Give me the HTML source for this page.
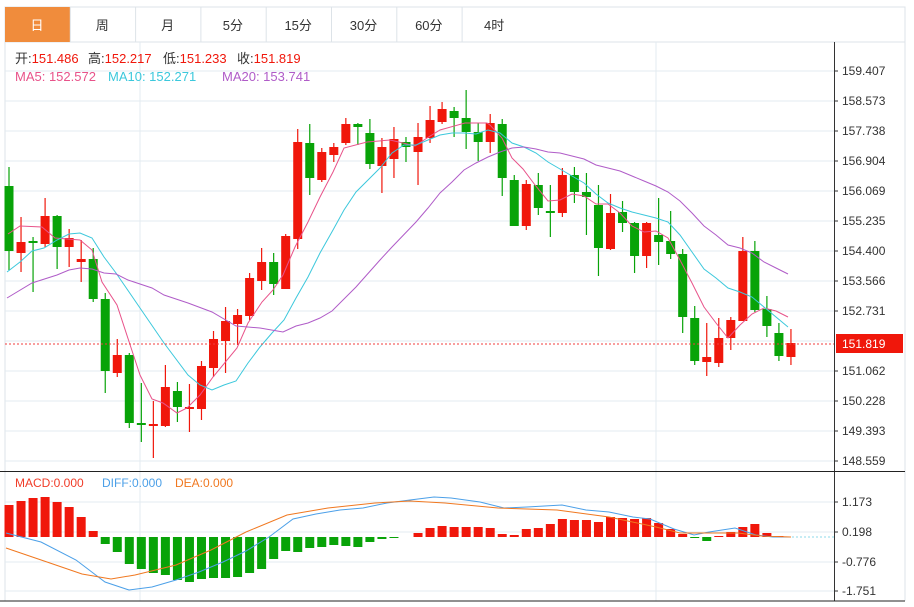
<!DOCTYPE html>
<html><head><meta charset="utf-8"><style>
body{margin:0;background:#fff;width:914px;height:602px;overflow:hidden;font-family:"Liberation Sans","Noto Sans CJK SC",sans-serif}
</style></head><body>
<svg id="s" width="914" height="602" xmlns="http://www.w3.org/2000/svg" font-family="Liberation Sans, Noto Sans CJK SC, sans-serif"></svg>
<script>
const s=document.getElementById('s');let h='';
const R='#f0170b',G='#08a308';
h+='<rect x="5" y="7" width="900" height="35" fill="#fff" stroke="#dde3e8"/>';
h+='<rect x="5" y="7" width="65" height="35" fill="#f08c3c"/>';
const tabs=['日','周','月','5分','15分','30分','60分','4时'];
tabs.forEach((t,i)=>{const x=5+i*65.3;if(i>0)h+=`<line x1="${x}" y1="7" x2="${x}" y2="42" stroke="#dde3e8"/>`;
h+=`<text x="${x+32}" y="30" font-size="13" text-anchor="middle" fill="${i?'#333':'#fff'}">${t}</text>`;});
h+='<line x1="5" y1="42" x2="5" y2="601" stroke="#dde3e8"/><line x1="905" y1="42" x2="905" y2="601" stroke="#dde3e8"/>';
const ticks=['159.407','158.573','157.738','156.904','156.069','155.235','154.400','153.566','152.731','151.062','150.228','149.393','148.559'];
const ty=[71,101,131,161,191,221,251,281,311,371,401,431,461];
ty.forEach(y=>h+=`<line x1="5" y1="${y}" x2="834" y2="${y}" stroke="#e3ebf1"/>`);
h+=`<line x1="5" y1="341" x2="834" y2="341" stroke="#e3ebf1"/>`;
h+='<line x1="140" y1="42" x2="140" y2="601" stroke="#e3ebf1"/><line x1="656" y1="42" x2="656" y2="601" stroke="#e3ebf1"/>';
ticks.forEach((t,i)=>{h+=`<line x1="834" y1="${ty[i]}" x2="838" y2="${ty[i]}" stroke="#333"/><text x="842" y="${ty[i]+4}" font-size="12" fill="#333">${t}</text>`});
h+='<line x1="834.5" y1="42" x2="834.5" y2="601" stroke="#333"/>';
h+='<line x1="0" y1="471.5" x2="905" y2="471.5" stroke="#222"/><line x1="0" y1="601" x2="905" y2="601" stroke="#222"/>';
const c=[[186,251,167,270,0],[242,253,217,272,1],[241,243,237,292,0],[216,244,198,247,1],[216,247,215,269,0],[238,247,229,267,1],[259,262,240,282,1],[259,299,248,302,0],[299,371,293,393,0],[355,373,339,377,1],[355,423,353,428,0],[423,425,383,442,0],[424,426,401,458,1],[387,426,365,427,1],[391,407,382,422,0],[407,409,384,432,1],[366,409,361,420,1],[339,368,331,377,1],[321,341,307,373,1],[315,324,309,345,1],[278,316,273,320,1],[262,281,248,290,1],[262,284,253,295,0],[236,289,234,289,1],[142,239,129,249,1],[143,178,124,195,0],[152,180,148,182,1],[147,155,143,162,1],[124,143,118,145,1],[124,127,123,145,0],[133,164,119,169,0],[147,166,138,193,1],[139,159,127,178,1],[142,147,137,162,0],[137,152,123,185,1],[120,138,106,143,1],[109,122,102,124,1],[111,118,107,137,0],[118,132,90,149,0],[132,142,123,161,0],[123,142,114,153,1],[124,178,119,196,0],[180,226,175,226,0],[184,226,180,230,1],[185,208,173,215,0],[211,213,185,237,0],[175,213,168,217,1],[175,192,167,203,0],[192,197,173,235,0],[205,248,185,276,0],[213,249,194,250,1],[212,223,201,232,0],[223,256,222,273,0],[223,256,222,268,1],[235,242,198,265,0],[241,254,211,259,0],[254,317,249,333,0],[318,361,306,365,0],[357,362,323,376,1],[338,363,318,367,1],[320,338,317,350,1],[251,321,237,321,1],[251,310,241,312,0],[309,326,296,337,0],[333,356,323,361,0],[343,357,329,365,1]];
const X=i=>9+i*12.03;
c.forEach((d,i)=>{const x=X(i),col=d[4]?R:G;
h+=`<line x1="${x}" y1="${d[2]}" x2="${x}" y2="${d[3]}" stroke="${col}" stroke-width="1.2"/>`;
h+=`<rect x="${x-4.5}" y="${d[0]}" width="9" height="${Math.max(d[1]-d[0],1.5)}" fill="${col}"/>`;});
const pl=(p,col,w)=>`<polyline fill="none" stroke="${col}" stroke-width="${w||1}" points="${p}"/>`;
h+=pl('8,234 20,226 42,227 55,238 80,240 92,250 102,282 117,305 140,375 152,399 163,403 177,413 187,408 200,395 213,377 237,348 248,323 262,302 273,290 283,275 295,247 308,222 320,197 333,172 344,148 367,142 390,140 403,143 415,146 427,138 440,130 465,123 487,123 490,125 502,138 512,158 523,169 535,185 548,201 560,200 572,194 584,196 596,204 608,204 620,213 632,226 644,232 656,231 668,238 680,260 692,283 704,307 716,323 728,338 740,325 752,314 764,308 776,311 788,317','#e8538a');
h+=pl('7,272 20,262 32,251 44,248 57,240 69,234 80,233 92,238 104,257 116,273 140,308 164,343 188,375 200,385 212,390 224,385 236,381 248,363 260,347 272,333 284,320 296,298 308,277 320,253 333,230 344,210 356,192 368,180 380,168 392,153 404,145 416,145 428,140 440,135 452,133 464,133 476,134 488,130 500,133 512,143 524,147 536,153 548,162 560,169 572,176 584,183 596,194 608,203 620,208 632,212 644,215 656,218 668,222 680,235 692,252 704,269 716,278 728,288 740,292 752,297 764,307 776,317 788,327','#3cc8dc');
h+=pl('7,298 32,283 57,275 69,270 80,268 92,269 104,273 116,274 128,280 152,288 164,295 188,303 212,312 236,326 260,328 283,332 296,326 308,323 320,318 332,311 356,287 380,260 392,247 416,222 428,208 440,193 452,182 464,170 476,163 488,157 500,152 512,148 524,147 536,149 548,152 560,153 572,156 584,159 596,165 608,168 620,171 632,176 644,181 656,186 668,192 680,201 692,213 704,226 716,235 728,245 740,248 752,253 764,262 776,268 788,274','#b05cc8');
h+='<line x1="5" y1="344" x2="834" y2="344" stroke="#f03c3c" stroke-dasharray="2,2"/>';
h+='<rect x="836" y="334" width="67" height="19" fill="#f0170b"/><text x="842" y="348" font-size="12" fill="#fff">151.819</text>';
h+=`<text y="63" font-size="13"><tspan x="15" fill="#333">开:</tspan><tspan fill="${R}">151.486</tspan><tspan x="88" fill="#333">高:</tspan><tspan fill="${R}">152.217</tspan><tspan x="163" fill="#333">低:</tspan><tspan fill="${R}">151.233</tspan><tspan x="237" fill="#333">收:</tspan><tspan fill="${R}">151.819</tspan></text>`;
h+=`<text y="81" font-size="13"><tspan x="15" fill="#e8538a">MA5: 152.572</tspan><tspan x="108" fill="#3cc8dc">MA10: 152.271</tspan><tspan x="222" fill="#b05cc8">MA20: 153.741</tspan></text>`;
const my=[502,532,562,591],ml=['1.173','0.198','-0.776','-1.751'];
my.forEach((y,i)=>{h+=`<line x1="5" y1="${y}" x2="834" y2="${y}" stroke="#e3ebf1"/><line x1="834" y1="${y}" x2="838" y2="${y}" stroke="#333"/><text x="842" y="${y+4}" font-size="12" fill="#333">${ml[i]}</text>`});
h+=`<text y="487" font-size="12"><tspan x="15" fill="#f03c28">MACD:0.000</tspan><tspan x="102" fill="#4ca0e8">DIFF:0.000</tspan><tspan x="175" fill="#f07820">DEA:0.000</tspan></text>`;
const Z=537,mb=[505,501,498,497,502,507,517,531,544,552,564,569,573,575,580,582,579,578,578,577,573,569,559,551,552,548,547,545,546,547,542,539,538,537,533,528,526,527,527,527,528,534,535,529,528,524,519,520,520,522,517,518,519,518,523,529,534,538,541,536,532,527,524,533,536,537];
mb.forEach((v,i)=>{const x=X(i);if(v==Z)return;h+=`<rect x="${x-4.5}" y="${Math.min(v,Z)}" width="9" height="${Math.abs(v-Z)}" fill="${v<Z?R:G}"/>`});
h+=pl('6,533 41,542 76,560 105,582 129,590 152,587 176,580 199,572 223,562 246,551 269,537 293,519 316,514 340,510 363,508 387,503 410,500 434,497 451,498 480,502 504,508 527,507 562,505 586,510 609,512 633,517 650,519 674,529 694,535 709,532 735,528 756,535 773,537 791,537','#4ca0e8');
h+=pl('6,548 47,562 82,574 111,579 135,575 176,565 211,550 246,532 287,515 328,508 375,503 410,501 445,503 498,508 557,510 609,517 656,527 680,533 703,533 738,533 762,536 791,537','#f07820');
h+='<line x1="792" y1="537" x2="834" y2="537" stroke="#8dd8e8" stroke-dasharray="2,2"/>';
s.innerHTML=h;
</script>
</body></html>
